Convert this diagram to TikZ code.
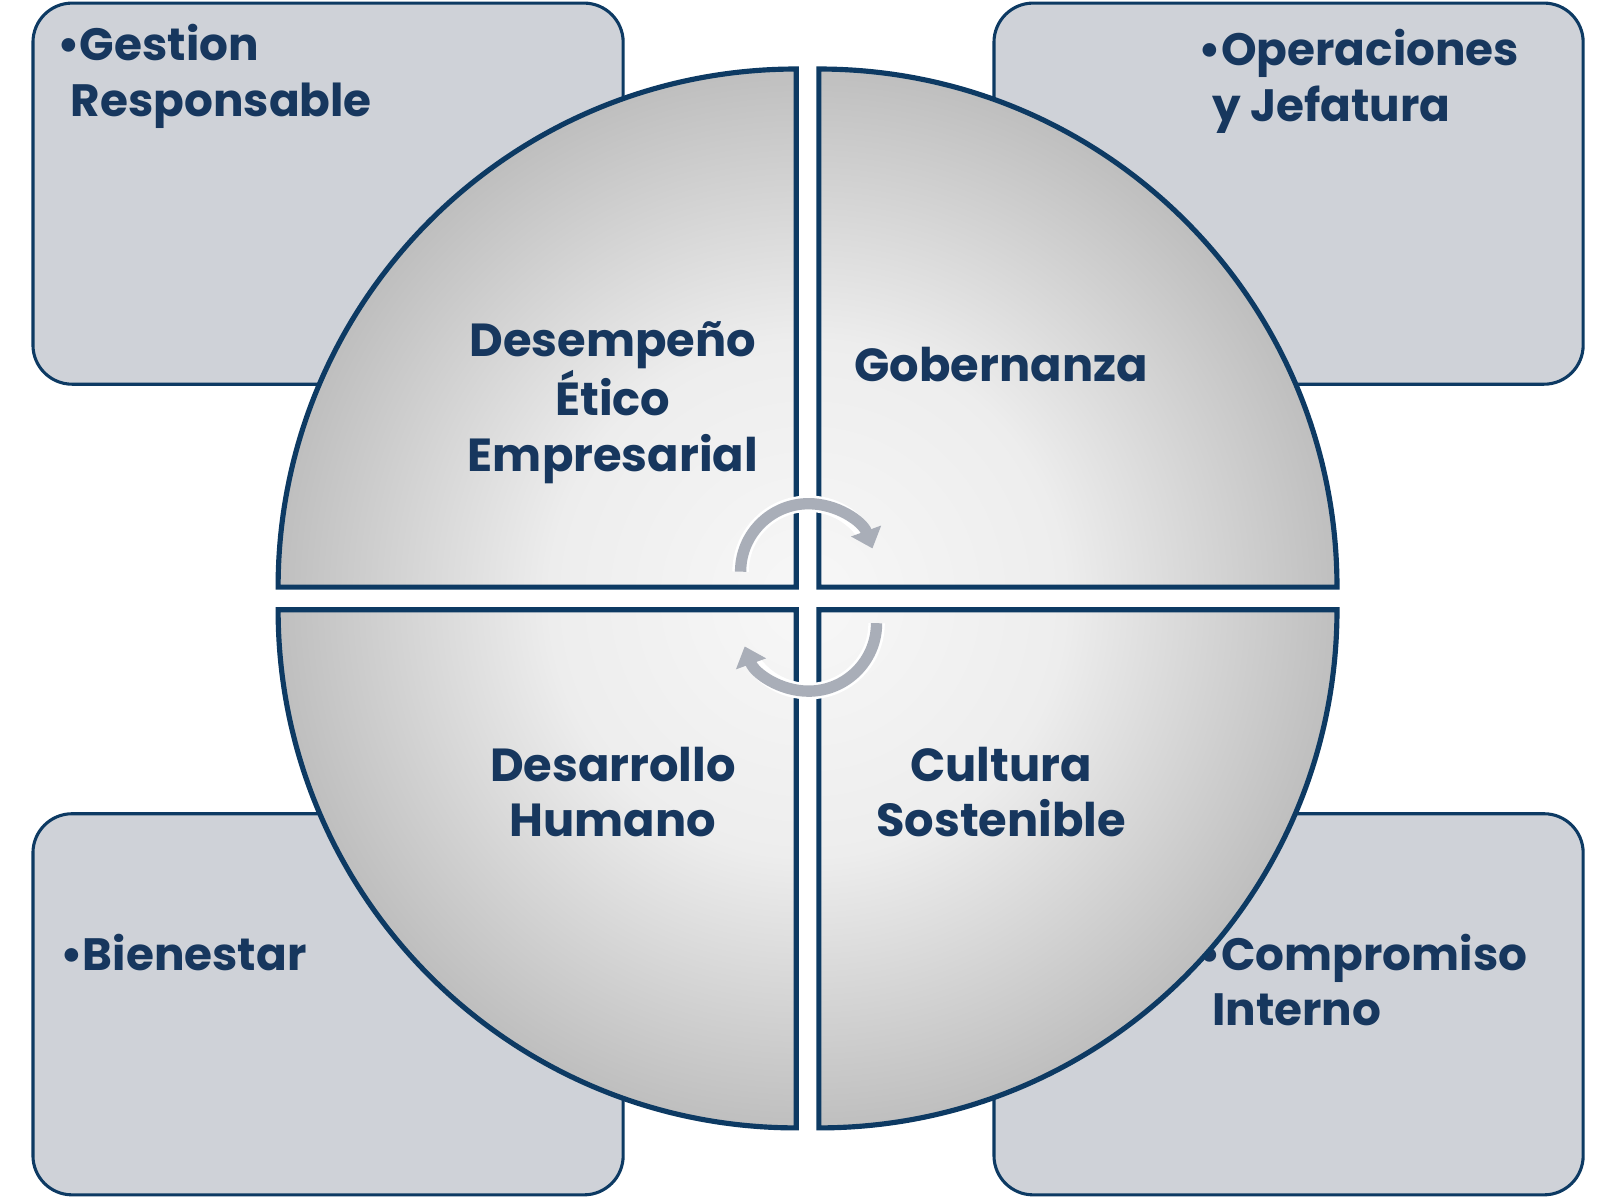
\documentclass[tikz,border=0pt]{standalone}
\usepackage{fontspec}
\setmainfont{Poppins}
\usetikzlibrary{arrows.meta}
\definecolor{navy}{HTML}{0D3A63}
\definecolor{txt}{HTML}{17375E}
\definecolor{boxfill}{HTML}{CFD2D8}
\definecolor{arrg}{HTML}{A9AEB8}
\pgfdeclareradialshading{disc}{\pgfpoint{0bp}{0bp}}{%
 color(0bp)=(black!3); color(12bp)=(black!7); color(26bp)=(black!27); color(35bp)=(black!14); color(100bp)=(black!14)}
\tikzset{
 box/.style={draw=navy,line width=3pt,fill=boxfill,rounded corners=38pt},
 qline/.style={draw=navy,line width=5pt},
 lbl/.style={text=txt,font=\fontsize{45}{54}\selectfont\bfseries,align=center},
 blt/.style={text=txt,font=\fontsize{44}{54}\selectfont\bfseries,align=left,anchor=north west},
 cyc/.style={draw=arrg,line width=11pt,-{Triangle[length=18pt,width=30pt]}}
}
\begin{document}
\begin{tikzpicture}[x=1pt,y=-1pt]
\useasboundingbox (0,0) rectangle (1565,1165);
\draw[box] (32,3) rectangle (605,373);
\draw[box] (965,3) rectangle (1537,373);
\draw[box] (32,790) rectangle (605,1160);
\draw[box] (965,790) rectangle (1537,1160);
\node[blt] (gr) at (52,20) {•Gestion\\\hspace*{0.3em}Responsable};
\node[blt] (oj) at (1160,25) {•Operaciones\\\hspace*{0.3em}y Jefatura};
\node[blt] (bi) at (55,903) {•Bienestar};
\node[blt] (ci) at (1160,903) {•Compromiso\\\hspace*{0.3em}Interno};
\foreach \p in {
 {(773,570) -- (270,570) arc[start angle=180,end angle=270,radius=503] -- cycle},
 {(795,570) -- (795,67) arc[start angle=270,end angle=360,radius=503] -- cycle},
 {(773,592) -- (773,1095) arc[start angle=90,end angle=180,radius=503] -- cycle},
 {(795,592) -- (1298,592) arc[start angle=0,end angle=90,radius=503] -- cycle}}{
 \begin{scope}
 \clip \p;
 \shade[shading=disc] (784,581) circle[radius=520];
 \end{scope}
 \draw[qline] \p;
}
\node[lbl] (de) at (595,391) {Desempeño\\Ético\\Empresarial};
\node[lbl] (go) at (972,354) {Gobernanza};
\node[lbl] (dh) at (595,769) {Desarrollo\\Humano};
\node[lbl] (cs) at (972,769) {Cultura\\Sostenible};
\coordinate (ca) at (785,555);
\coordinate (cb) at (785,605);
\draw[white,line width=16pt] ([shift={(180:66)}]ca) arc[start angle=180,end angle=330,radius=66];
\draw[white,line width=16pt] ([shift={(0:66)}]cb) arc[start angle=0,end angle=150,radius=66];
\draw[cyc] ([shift={(180:66)}]ca) arc[start angle=180,end angle=340,radius=66];
\draw[cyc] ([shift={(0:66)}]cb) arc[start angle=0,end angle=160,radius=66];
\end{tikzpicture}
\end{document}
